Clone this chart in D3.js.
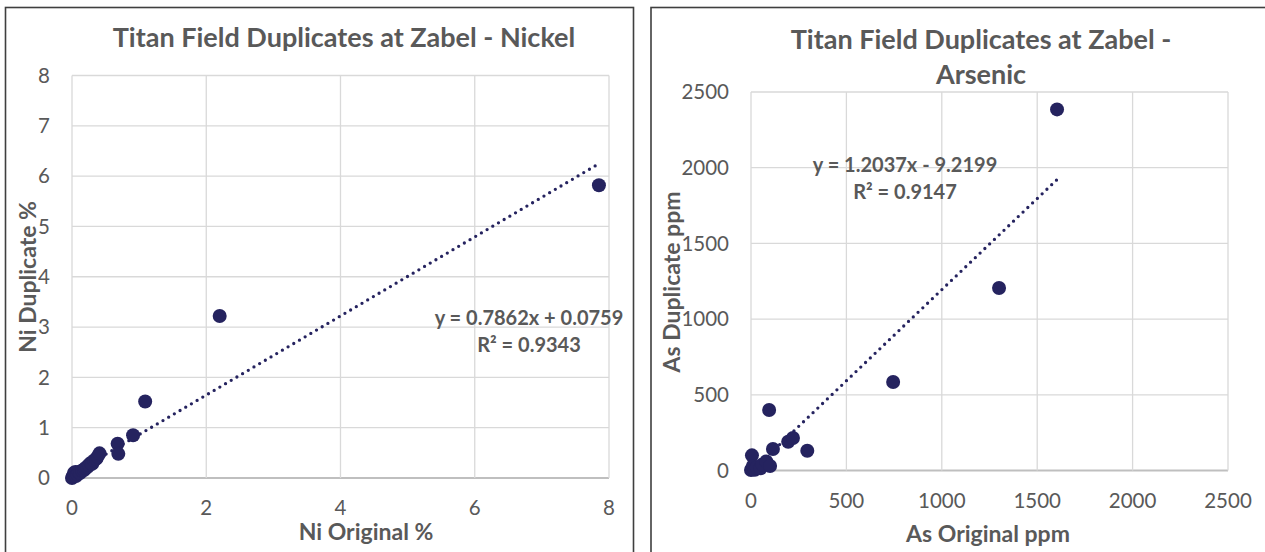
<!DOCTYPE html>
<html>
<head>
<meta charset="utf-8">
<script src="https://cdn.jsdelivr.net/npm/d3@7"></script>
<style>
  body { margin: 0; background: #fff; }
  svg { display: block; font-family: Lato, "Open Sans", sans-serif; }
</style>
</head>
<body>
<svg id="main" width="1265" height="552"></svg>
<script>
// nickel duplicates (%)
var niOriginal  = [0, 0.01, 0.02, 0.03, 0.05, 0.06, 0.08, 0.1, 0.12, 0.15, 0.18, 0.2, 0.23, 0.25, 0.28, 0.3, 0.33, 0.36, 0.38, 0.41, 0.68, 0.69, 0.91, 1.09, 2.2, 7.85]
var niDuplicate = [0, 0.02, 0.05, 0.1, 0.12, 0.04, 0.08, 0.12, 0.1, 0.15, 0.16, 0.2, 0.22, 0.26, 0.3, 0.28, 0.35, 0.38, 0.42, 0.49, 0.68, 0.48, 0.85, 1.52, 3.22, 5.82]
var niTicks = [0, 1, 2, 3, 4, 5, 6, 7, 8]
var niXTicks = [0, 2, 4, 6, 8]
var niFit = [0.7862, 0.0759]
var niFitText = ["y = 0.7862x + 0.0759", "R² = 0.9343"]

// arsenic duplicates (ppm)
var asOriginal  = [0, 5, 5, 10, 20, 30, 50, 60, 80, 100, 115, 195, 220, 295, 95, 745, 1300, 1604]
var asDuplicate = [3, 100, 10, 30, 5, 20, 15, 40, 60, 30, 142, 190, 215, 130, 400, 585, 1205, 2385]
var asTicks = [0, 500, 1000, 1500, 2000, 2500]
var asFit = [1.2037, -9.2199]
var asFitText = ["y = 1.2037x - 9.2199", "R² = 0.9147"]

var svg = d3.select('#main')
var textColor = '#595959'
var markColor = '#25235f'

function drawPanel(p) {
    var g = svg.append('g')
    // frame
    g.append('rect')
        .attr('x', p.frame[0]).attr('y', p.frame[1])
        .attr('width', p.frame[2]).attr('height', p.frame[3])
        .attr('fill', 'none').attr('stroke', '#3f3f3f').attr('stroke-width', 1.6)

    var x = d3.scaleLinear().domain(p.xDomain).range([p.left, p.right])
    var y = d3.scaleLinear().domain(p.yDomain).range([p.bottom, p.top])

    // grid
    g.selectAll('.hg').data(p.yTicks).enter().append('line')
        .attr('x1', p.left).attr('x2', p.right)
        .attr('y1', function(d) { return y(d) }).attr('y2', function(d) { return y(d) })
        .attr('stroke', function(d) { return d === 0 ? '#bfbfbf' : '#d9d9d9' })
        .attr('stroke-width', function(d) { return d === 0 ? 1.8 : 1.3 })
    g.selectAll('.vg').data(p.xTicks).enter().append('line')
        .attr('y1', p.top).attr('y2', p.bottom)
        .attr('x1', function(d) { return x(d) }).attr('x2', function(d) { return x(d) })
        .attr('stroke', '#d9d9d9').attr('stroke-width', 1.3)

    // tick labels
    g.selectAll('.yl').data(p.yTicks).enter().append('text')
        .attr('x', p.left - 22).attr('y', function(d) { return y(d) })
        .attr('dy', '0.35em').attr('text-anchor', 'end')
        .attr('fill', textColor).style('font-size', '20.5px')
        .text(function(d) { return d })
    g.selectAll('.xl').data(p.xTicks).enter().append('text')
        .attr('x', function(d) { return x(d) }).attr('y', p.bottom + 30)
        .attr('dy', '0.35em').attr('text-anchor', 'middle')
        .attr('fill', textColor).style('font-size', '20.5px')
        .text(function(d) { return d })

    // titles
    var t = g.append('text').attr('text-anchor', 'middle')
        .attr('fill', textColor).style('font-size', '27px').style('font-weight', 'bold')
    p.title.forEach(function(line, i) {
        t.append('tspan').attr('x', p.titlePos[0]).attr('y', p.titlePos[1] + i * 35)
            .attr('dy', '0.35em').text(line)
    })
    g.append('text').attr('x', p.xLabelPos[0]).attr('y', p.xLabelPos[1])
        .attr('dy', '0.35em').attr('text-anchor', 'middle')
        .attr('fill', textColor).style('font-size', '23px').style('font-weight', 'bold')
        .text(p.xLabel)
    g.append('text')
        .attr('transform', 'translate(' + p.yLabelPos[0] + ',' + p.yLabelPos[1] + ') rotate(-90)')
        .attr('dy', '0.35em').attr('text-anchor', 'middle')
        .attr('fill', textColor).style('font-size', '23px').style('font-weight', 'bold')
        .text(p.yLabel)

    // trendline
    var x0 = d3.min(p.xs), x1 = d3.max(p.xs)
    g.append('line')
        .attr('x1', x(x0)).attr('y1', y(p.fit[0] * x0 + p.fit[1]))
        .attr('x2', x(x1)).attr('y2', y(p.fit[0] * x1 + p.fit[1]))
        .attr('stroke', markColor).attr('stroke-width', 3.3)
        .attr('stroke-linecap', 'round').attr('stroke-dasharray', '0,6.6')

    // points
    g.selectAll('circle').data(p.xs).enter().append('circle')
        .attr('cx', function(d) { return x(d) })
        .attr('cy', function(d, i) { return y(p.ys[i]) })
        .attr('r', 7)
        .attr('fill', markColor)

    // equation
    var e = g.append('text').attr('text-anchor', 'middle')
        .attr('fill', textColor).style('font-size', '20px').style('font-weight', 'bold')
    p.fitText.forEach(function(line, i) {
        e.append('tspan').attr('x', p.fitPos[0]).attr('y', p.fitPos[1] + i * 27)
            .attr('dy', '0.35em').text(line)
    })
}

drawPanel({
    frame: [5.5, 7.5, 628, 600],
    left: 72, right: 609, top: 75.5, bottom: 478,
    xDomain: [0, 8], yDomain: [0, 8],
    xTicks: niXTicks, yTicks: niTicks,
    xs: niOriginal, ys: niDuplicate,
    fit: niFit, fitText: niFitText, fitPos: [529, 318],
    title: ['Titan Field Duplicates at Zabel - Nickel'], titlePos: [344, 38],
    xLabel: 'Ni Original %', xLabelPos: [366, 532],
    yLabel: 'Ni Duplicate %', yLabelPos: [28, 277]
})

drawPanel({
    frame: [651, 7.5, 700, 600],
    left: 751, right: 1228, top: 92, bottom: 470.5,
    xDomain: [0, 2500], yDomain: [0, 2500],
    xTicks: asTicks, yTicks: asTicks,
    xs: asOriginal, ys: asDuplicate,
    fit: asFit, fitText: asFitText, fitPos: [905, 165],
    title: ['Titan Field Duplicates at Zabel -', 'Arsenic'], titlePos: [981, 40],
    xLabel: 'As Original ppm', xLabelPos: [988, 534],
    yLabel: 'As Duplicate ppm', yLabelPos: [672, 282]
})
</script>
</body>
</html>
